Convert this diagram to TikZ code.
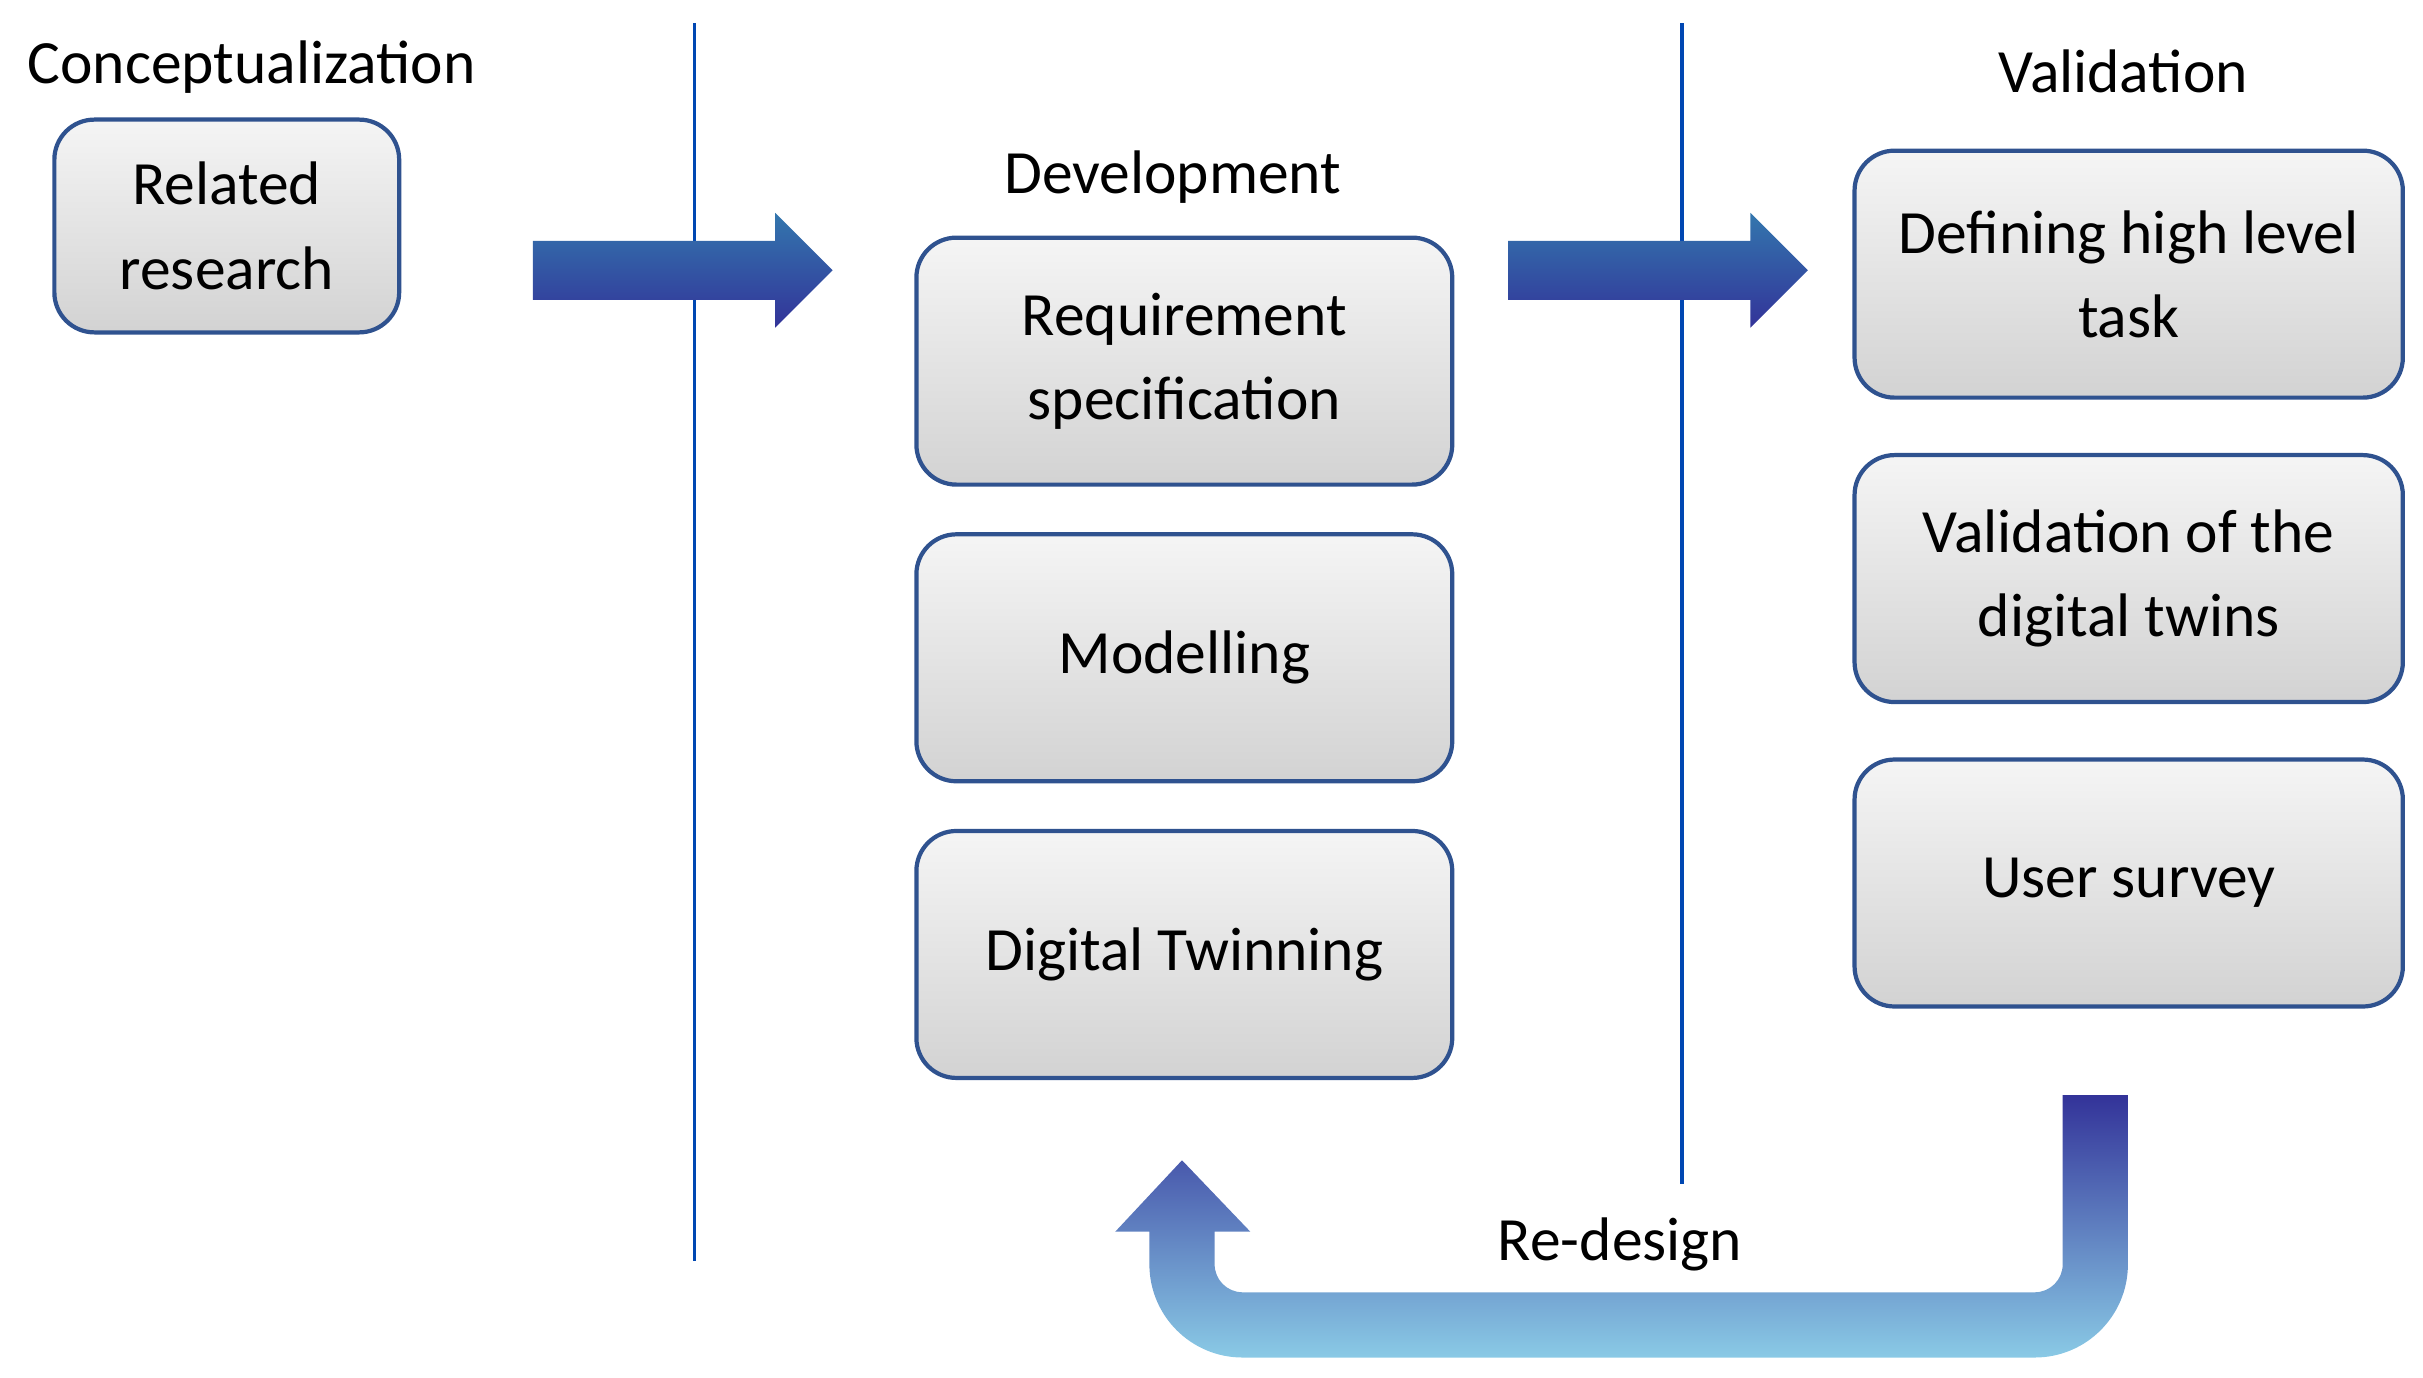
\documentclass[tikz,border=0pt]{standalone}
\usepackage{fontspec}
\setmainfont{Carlito}
\begin{document}
\begin{tikzpicture}[x=0.01553cm,y=-0.01553cm,
  box/.style={draw=blue!40!black!80!cyan,line width=1.2pt,rounded corners=0.4cm,top color=gray!8,bottom color=gray!35,align=center,font=\fontsize{17.5}{24}\selectfont,inner sep=0pt},
  lbl/.style={font=\fontsize{17.5}{21}\selectfont},
  sep/.style={draw=blue!60!cyan!70!black,line width=1pt},
  arr/.style={top color=blue!45!cyan!60!black!80,bottom color=blue!50!black!80,draw=none}]
\useasboundingbox (0,0) rectangle (1560,887);
\definecolor{bb}{HTML}{2F528F}
\tikzset{box/.append style={draw=bb}}
\node[box,minimum width=222*0.01553cm,minimum height=137*0.01553cm] (rr) at (146,145.5) {Related\\research};
\node[box,minimum width=345*0.01553cm,minimum height=159*0.01553cm] (rs) at (762.5,232.5) {Requirement\\specification};
\node[box,minimum width=345*0.01553cm,minimum height=159*0.01553cm] (mo) at (762.5,423.5) {Modelling};
\node[box,minimum width=345*0.01553cm,minimum height=159*0.01553cm] (dt) at (762.5,614.5) {Digital Twinning};
\node[box,minimum width=353*0.01553cm,minimum height=159*0.01553cm] (dh) at (1370.5,176.5) {Defining high level\\task};
\node[box,minimum width=353*0.01553cm,minimum height=159*0.01553cm] (vd) at (1370.5,372.5) {Validation of the\\digital twins};
\node[box,minimum width=353*0.01553cm,minimum height=159*0.01553cm] (us) at (1370.5,568.5) {User survey};
\coordinate (l1t) at (447,15); \coordinate (l1b) at (447,812);
\coordinate (l2t) at (1083,15); \coordinate (l2b) at (1083,762);
\draw[sep] (l1t) -- (l1b);
\draw[sep] (l2t) -- (l2b);
\shade[arr] (343,155) -- (499,155) -- (499,137) -- (536,174) -- (499,211) -- (499,193) -- (343,193) -- cycle;
\shade[arr] (971,155) -- (1127,155) -- (1127,137) -- (1164,174) -- (1127,211) -- (1127,193) -- (971,193) -- cycle;
\shade[top color=blue!50!black!80,bottom color=blue!30!cyan!40!white!90!black] (1328,705) -- (1370,705) -- (1370,814) arc(0:90:60) -- (800,874) arc(90:180:60) -- (740,793) -- (718,793) -- (761,747) -- (805,793) -- (782,793) -- (782,814) arc(180:90:18) -- (1310,832) arc(90:0:18) -- cycle;
\node[lbl] (c) at (162,43) {Conceptualization};
\node[lbl] (d) at (755,114) {Development};
\node[lbl] (v) at (1367,46) {Validation};
\node[lbl] (r) at (1043,801) {Re-design};
\end{tikzpicture}
\end{document}
